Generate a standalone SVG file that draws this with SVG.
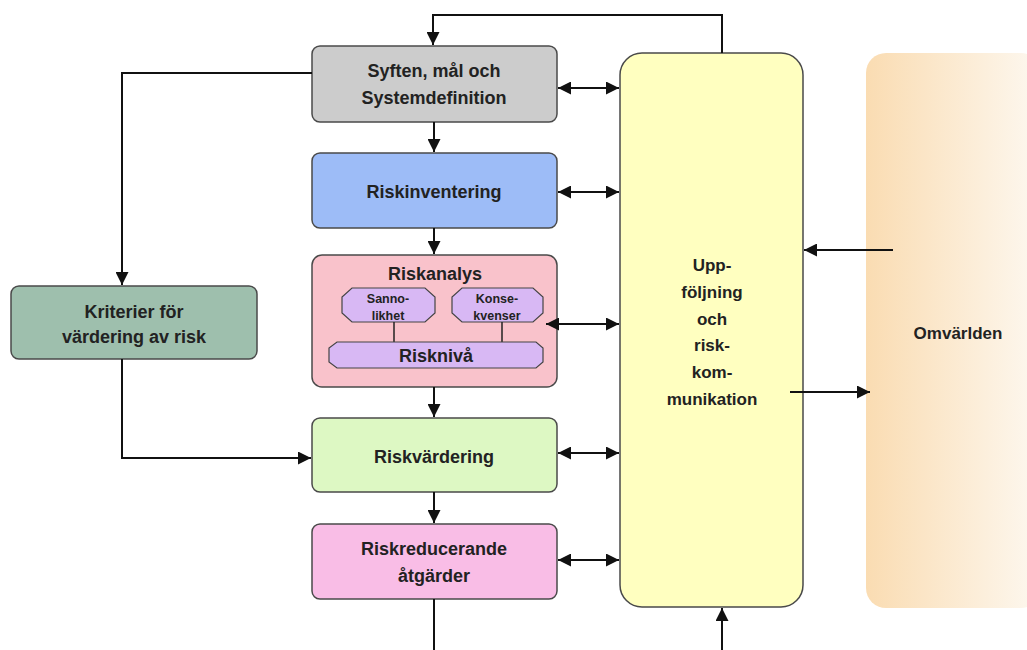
<svg xmlns="http://www.w3.org/2000/svg" width="1027" height="650" viewBox="0 0 1027 650">
<defs>
<style>
.box{stroke:#4a4a4a;stroke-width:1.5}
.t{font-family:"Liberation Sans",Arial,sans-serif;font-weight:bold;font-size:18px;fill:#222;text-anchor:middle}
.y{font-size:17px}
.s{font-family:"Liberation Sans",Arial,sans-serif;font-weight:bold;font-size:12.5px;fill:#222;text-anchor:middle}
.ln{fill:none;stroke:#111;stroke-width:2}
.sub{fill:#d8b8f4;stroke:#444;stroke-width:1.2}
</style>
<marker id="ah" viewBox="0 0 10 10" refX="10" refY="5" markerWidth="6.5" markerHeight="6.5" orient="auto-start-reverse" markerUnits="strokeWidth">
<path d="M0,0 L10,5 L0,10 z" fill="#111"/>
</marker>
<linearGradient id="og" x1="0" y1="0" x2="1" y2="0">
<stop offset="0" stop-color="#fadcb2"/>
<stop offset="1" stop-color="#fdf8f0"/>
</linearGradient>
</defs>
<rect width="1027" height="650" fill="#ffffff"/>

<g id="omvarlden">
<rect x="866" y="53" width="175" height="555" rx="20" fill="url(#og)"/>
<text class="t y" x="958" y="339">Omvärlden</text>
</g>

<g id="uppfoljning">
<rect class="box" x="620" y="53" width="183" height="554" rx="22" fill="#ffffc0"/>
<text class="t y" x="712" y="271">Upp-</text>
<text class="t y" x="712" y="298">följning</text>
<text class="t y" x="712" y="325">och</text>
<text class="t y" x="712" y="351">risk-</text>
<text class="t y" x="712" y="378">kom-</text>
<text class="t y" x="712" y="405">munikation</text>
</g>

<g id="syften">
<rect class="box" x="312" y="46" width="245" height="76" rx="8" fill="#cccccc"/>
<text class="t" x="434" y="77">Syften, mål och</text>
<text class="t" x="434" y="104">Systemdefinition</text>
</g>

<g id="riskinventering">
<rect class="box" x="312" y="153" width="245" height="75" rx="8" fill="#9dbcf7"/>
<text class="t" x="434" y="198">Riskinventering</text>
</g>

<g id="riskanalys">
<rect class="box" x="312" y="255" width="245" height="132" rx="10" fill="#f9c2cb"/>
<text class="t" x="435" y="280">Riskanalys</text>
<polygon class="sub" points="352,288 425,288 435,297 435,313 425,322 352,322 342,313 342,297"/>
<text class="s" x="388" y="303">Sanno-</text>
<text class="s" x="388" y="320">likhet</text>
<polygon class="sub" points="462,288 533,288 543,297 543,313 533,322 462,322 452,313 452,297"/>
<text class="s" x="497" y="303">Konse-</text>
<text class="s" x="497" y="320">kvenser</text>
<line x1="394" y1="322" x2="394" y2="342" stroke="#222" stroke-width="1.5"/>
<line x1="502" y1="322" x2="502" y2="342" stroke="#222" stroke-width="1.5"/>
<polygon class="sub" points="337,342 536,342 543,348 543,362 536,368 337,368 329,362 329,348"/>
<text class="t" x="436" y="362" font-size="17">Risknivå</text>
</g>

<g id="kriterier">
<rect class="box" x="11" y="286" width="246" height="73" rx="8" fill="#9ebfad"/>
<text class="t" x="134" y="318">Kriterier för</text>
<text class="t" x="134" y="343">värdering av risk</text>
</g>

<g id="riskvardering">
<rect class="box" x="312" y="418" width="245" height="74" rx="8" fill="#ddf8c3"/>
<text class="t" x="434" y="463">Riskvärdering</text>
</g>

<g id="riskreducerande">
<rect class="box" x="312" y="524" width="245" height="75" rx="8" fill="#f9bde6"/>
<text class="t" x="434" y="555">Riskreducerande</text>
<text class="t" x="434" y="582">åtgärder</text>
</g>

<g id="connectors">
<polyline class="ln" points="722,53 722,15 433,15 433,45" marker-end="url(#ah)"/>
<line class="ln" x1="434" y1="122" x2="434" y2="152" marker-end="url(#ah)"/>
<line class="ln" x1="434" y1="228" x2="434" y2="254" marker-end="url(#ah)"/>
<line class="ln" x1="434" y1="387" x2="434" y2="417" marker-end="url(#ah)"/>
<line class="ln" x1="434" y1="492" x2="434" y2="523" marker-end="url(#ah)"/>
<line class="ln" x1="434" y1="599" x2="434" y2="650"/>
<line class="ln" x1="722" y1="650" x2="722" y2="608" marker-end="url(#ah)"/>
<line class="ln" x1="558" y1="88" x2="619" y2="88" marker-start="url(#ah)" marker-end="url(#ah)"/>
<line class="ln" x1="558" y1="192" x2="619" y2="192" marker-start="url(#ah)" marker-end="url(#ah)"/>
<line class="ln" x1="546" y1="324" x2="619" y2="324" marker-start="url(#ah)" marker-end="url(#ah)"/>
<line class="ln" x1="558" y1="453" x2="619" y2="453" marker-start="url(#ah)" marker-end="url(#ah)"/>
<line class="ln" x1="558" y1="560" x2="619" y2="560" marker-start="url(#ah)" marker-end="url(#ah)"/>
<polyline class="ln" points="312,73 122,73 122,285" marker-end="url(#ah)"/>
<polyline class="ln" points="122,359 122,458 311,458" marker-end="url(#ah)"/>
<line class="ln" x1="893" y1="250" x2="804" y2="250" marker-end="url(#ah)"/>
<line class="ln" x1="790" y1="392" x2="870" y2="392" marker-end="url(#ah)"/>
</g>
</svg>
